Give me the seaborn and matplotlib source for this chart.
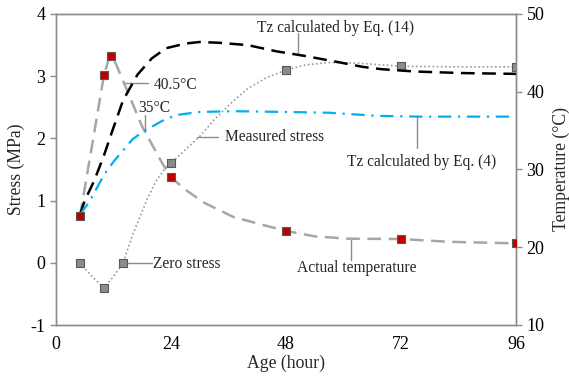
import matplotlib
matplotlib.use("Agg")
import matplotlib.pyplot as plt
import seaborn as sns

# ---- data ----
age_ticks = [0, 24, 48, 72, 96]
stress_ticks = [-1, 0, 1, 2, 3, 4]
temp_ticks = [10, 20, 30, 40, 50]

# measured stress (markers) and its smoothed line
meas_t = [5, 10, 14, 24, 48, 72, 96]
meas_s = [0.0, -0.40, 0.0, 1.60, 3.10, 3.16, 3.15]
meas_curve_t = [5, 7.5, 10, 12, 14, 16, 19, 21, 23, 24, 27, 30, 33, 37, 40, 44, 48, 52, 57, 63, 72, 84, 96]
meas_curve_s = [0.0, -0.22, -0.40, -0.22, 0.0, 0.45, 1.02, 1.33, 1.54, 1.60, 1.82, 2.03, 2.30, 2.60,
                 2.80, 2.98, 3.10, 3.18, 3.22, 3.21, 3.16, 3.15, 3.15]

# actual temperature (markers) and its smoothed line
temp_t = [5, 10, 11.5, 24, 48, 72, 96]
temp_v = [24.0, 42.1, 44.6, 29.0, 22.1, 21.06, 20.5]
temp_curve_t = [5, 7.5, 10, 11, 11.5, 12.5, 14, 18, 22, 24, 27, 31, 37, 43, 48, 54, 61, 72, 82, 96]
temp_curve_v = [24.0, 33.0, 42.1, 44.2, 44.6, 43.6, 41.4, 35.5, 31.0, 29.0, 27.4, 25.7, 23.9, 22.9,
                22.1, 21.4, 21.1, 21.06, 20.7, 20.5]

# Tz calculated by Eq. (14)
tz14_t = [5, 6, 8, 10, 12, 14, 17, 20, 23, 27, 30, 34, 40, 46, 52, 59, 64, 68, 75, 85, 96]
tz14_v = [24.2, 26.0, 28.6, 31.8, 35.4, 38.9, 42.2, 44.3, 45.6, 46.2, 46.4, 46.3, 46.0, 45.2,
          44.6, 43.8, 43.2, 42.9, 42.6, 42.4, 42.3]

# Tz calculated by Eq. (4)
tz4_t = [5, 7, 10, 12, 16, 18, 22, 25, 30, 37, 48, 57, 67, 76, 86, 96]
tz4_v = [24.2, 25.9, 29.3, 31.0, 33.9, 34.8, 36.2, 37.0, 37.4, 37.5, 37.4, 37.3, 36.9, 36.8, 36.8, 36.8]

# ---- styling ----
sns.set_style("white")
plt.rcParams["font.family"] = ["Liberation Serif", "DejaVu Serif"]
plt.rcParams["axes.edgecolor"] = "#8c8c8c"
plt.rcParams["xtick.color"] = "#8c8c8c"
plt.rcParams["ytick.color"] = "#8c8c8c"
plt.rcParams["xtick.labelcolor"] = "black"
plt.rcParams["ytick.labelcolor"] = "black"

fig = plt.figure(figsize=(5.69, 3.77), dpi=100)
ax = fig.add_axes([56 / 569, 1 - 325 / 377, (516 - 56) / 569, (325 - 14) / 377])
ax2 = ax.twinx()

GRAY_LINE = "#a6a6a6"
LEAD = "#8c8c8c"

# measured stress
sns.lineplot(x=meas_curve_t, y=meas_curve_s, ax=ax, color="#9a9a9a", lw=1.2,
             linestyle=(0, (1, 1.5)), estimator=None, sort=False)
sns.scatterplot(x=meas_t, y=meas_s, ax=ax, marker="s", s=36, color="#8c8c8c",
                edgecolor="#595959", linewidth=0.8, zorder=5)

# temperature lines
sns.lineplot(x=temp_curve_t, y=temp_curve_v, ax=ax2, color=GRAY_LINE, lw=1.8,
             linestyle=(0, (5.5, 3)), estimator=None, sort=False)
sns.lineplot(x=tz14_t, y=tz14_v, ax=ax2, color="black", lw=1.8,
             linestyle=(0, (5.5, 3)), estimator=None, sort=False)
sns.lineplot(x=tz4_t, y=tz4_v, ax=ax2, color="#00b0f0", lw=1.6,
             linestyle=(0, (6, 3, 1, 3)), estimator=None, sort=False)
sns.scatterplot(x=temp_t, y=temp_v, ax=ax2, marker="s", s=36, color="#c00000",
                edgecolor="#595959", linewidth=0.8, zorder=6)

# axes
ax.set_xlim(0, 96)
ax.set_ylim(-1, 4)
ax2.set_ylim(10, 50)
ax.set_xticks(age_ticks)
ax.set_yticks(stress_ticks)
ax2.set_yticks(temp_ticks)
ax.set_xticklabels([str(v) for v in age_ticks])
ax.set_yticklabels([str(v) for v in stress_ticks])
ax2.set_yticklabels([str(v) for v in temp_ticks])
for a in (ax, ax2):
    a.tick_params(direction="out", length=4, width=1, labelsize=13)
    for sp in a.spines.values():
        sp.set_linewidth(1)
        sp.set_color("#8c8c8c")
ax.tick_params(axis="x", pad=4)
ax.set_xlabel("Age (hour)", fontsize=12.7, labelpad=1)
ax.set_ylabel("Stress (MPa)", fontsize=12.7, labelpad=4)
ax2.set_ylabel("Temperature (°C)", fontsize=12.7, labelpad=6)

# annotations (ax data coords: hours, MPa)
fs = 11.2
ax.text(41.9, 3.77, "Tz calculated by Eq. (14)", fontsize=fs, va="center", ha="left")
ax.plot([50.5, 50.5], [3.69, 3.34], color=LEAD, lw=1)
ax.text(20.5, 2.86, "40.5°C", fontsize=fs, va="center", ha="left")
ax.plot([14.0, 19.2], [2.89, 2.89], color=LEAD, lw=1)
ax.text(17.1, 2.49, "35°C", fontsize=fs, va="center", ha="left")
ax.plot([18.6, 18.6], [2.37, 2.10], color=LEAD, lw=1)
ax.text(35.3, 2.02, "Measured stress", fontsize=fs, va="center", ha="left")
ax.plot([29.4, 33.8], [2.03, 2.03], color=LEAD, lw=1)
ax.text(60.7, 1.62, "Tz calculated by Eq. (4)", fontsize=fs, va="center", ha="left")
ax.plot([75.3, 75.3], [2.34, 1.84], color=LEAD, lw=1)
ax.text(20.2, -0.02, "Zero stress", fontsize=fs, va="center", ha="left")
ax.plot([14.4, 20.0], [0.0, 0.0], color=LEAD, lw=1)
ax.text(50.3, -0.085, "Actual temperature", fontsize=fs, va="center", ha="left")
ax.plot([61.6, 61.6], [0.38, 0.04], color=LEAD, lw=1)

ax2.set_zorder(ax.get_zorder() + 1)
ax2.patch.set_visible(False)

fig.savefig("out.png", dpi=100)
